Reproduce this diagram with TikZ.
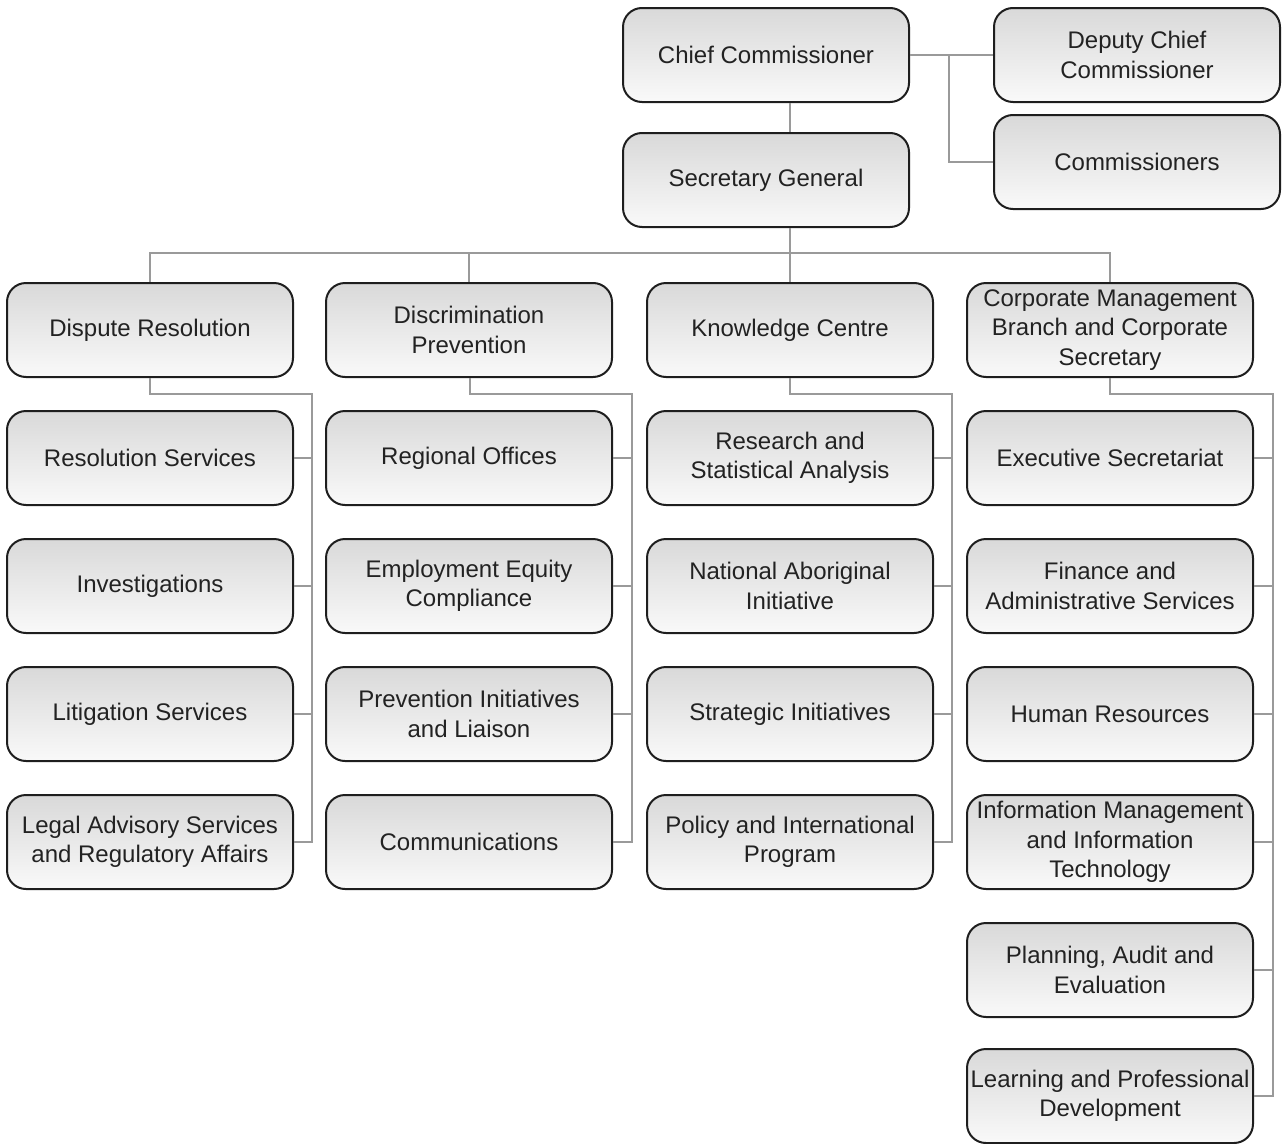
\documentclass[tikz,border=0pt]{standalone}
\usepackage{fontspec}
\setmainfont{Liberation Sans}
\definecolor{boxline}{HTML}{1E1E1E}
\definecolor{conn}{HTML}{9A9A9A}
\definecolor{shtop}{HTML}{D9D9D9}
\definecolor{shbot}{HTML}{F9F9F9}
\definecolor{txt}{HTML}{222222}
\begin{document}
\begin{tikzpicture}[x=1pt,y=-1pt,
  orgbox/.style={draw=boxline, line width=2pt, rounded corners=19pt,
    top color=shtop, bottom color=shbot, minimum width=286pt, minimum height=94pt,
    inner sep=0pt, align=center, text=txt,
    font=\fontsize{24}{29.5}\selectfont},
  link/.style={draw=conn, line width=1.8pt}]
\useasboundingbox (0,0) rectangle (1282,1143);
% top
\node[orgbox] (cc) at (766,55) {Chief Commissioner};
\node[orgbox] (dc) at (1137,55) {Deputy Chief\\Commissioner};
\node[orgbox] (cm) at (1137,162) {Commissioners};
\node[orgbox] (sg) at (766,180) {Secretary General};
% heads
\node[orgbox] (h1) at (150,330) {Dispute Resolution};
\node[orgbox] (h2) at (469,330) {Discrimination\\Prevention};
\node[orgbox] (h3) at (790,330) {Knowledge Centre};
\node[orgbox] (h4) at (1110,330) {Corporate Management\\Branch and Corporate\\Secretary};
% column 1
\node[orgbox] (a1) at (150,458) {Resolution Services};
\node[orgbox] (a2) at (150,586) {Investigations};
\node[orgbox] (a3) at (150,714) {Litigation Services};
\node[orgbox] (a4) at (150,842) {Legal Advisory Services\\and Regulatory Affairs};
% column 2
\node[orgbox] (b1) at (469,458) {Regional Offices};
\node[orgbox] (b2) at (469,586) {Employment Equity\\Compliance};
\node[orgbox] (b3) at (469,714) {Prevention Initiatives\\and Liaison};
\node[orgbox] (b4) at (469,842) {Communications};
% column 3
\node[orgbox] (c1) at (790,458) {Research and\\Statistical Analysis};
\node[orgbox] (c2) at (790,586) {National Aboriginal\\Initiative};
\node[orgbox] (c3) at (790,714) {Strategic Initiatives};
\node[orgbox] (c4) at (790,842) {Policy and International\\Program};
% column 4
\node[orgbox] (d1) at (1110,458) {Executive Secretariat};
\node[orgbox] (d2) at (1110,586) {Finance and\\Administrative Services};
\node[orgbox] (d3) at (1110,714) {Human Resources};
\node[orgbox] (d4) at (1110,842) {Information Management\\and Information\\Technology};
\node[orgbox] (d5) at (1110,970) {Planning, Audit and\\Evaluation};
\node[orgbox] (d6) at (1110,1096) {Learning and Professional\\Development};
% connectors top
\draw[link] (cc.east) -- (dc.west);
\draw[link] ([xshift=39pt]cc.east) |- (cm.west);
\draw[link] ([xshift=24pt]cc.south) -- ([xshift=24pt]sg.north);
\draw[link] ([xshift=24pt]sg.south) -- (h3.north);
\draw[link] (h1.north) -- ++(0,-29) -| (h4.north);
\draw[link] (h2.north) -- ++(0,-29);
% column 1
\draw[link] (h1.south) -- ++(0,16) -| ([xshift=18pt]a4.east) -- (a4.east);
\draw[link] (a1.east) -- ++(18,0);
\draw[link] (a2.east) -- ++(18,0);
\draw[link] (a3.east) -- ++(18,0);
% column 2
\draw[link] ([xshift=1pt]h2.south) -- ++(0,16) -| ([xshift=19pt]b4.east) -- (b4.east);
\draw[link] (b1.east) -- ++(19,0);
\draw[link] (b2.east) -- ++(19,0);
\draw[link] (b3.east) -- ++(19,0);
% column 3
\draw[link] (h3.south) -- ++(0,16) -| ([xshift=18pt]c4.east) -- (c4.east);
\draw[link] (c1.east) -- ++(18,0);
\draw[link] (c2.east) -- ++(18,0);
\draw[link] (c3.east) -- ++(18,0);
% column 4
\draw[link] (h4.south) -- ++(0,16) -| ([xshift=19pt]d6.east) -- (d6.east);
\draw[link] (d1.east) -- ++(19,0);
\draw[link] (d2.east) -- ++(19,0);
\draw[link] (d3.east) -- ++(19,0);
\draw[link] (d4.east) -- ++(19,0);
\draw[link] (d5.east) -- ++(19,0);
\end{tikzpicture}
\end{document}
